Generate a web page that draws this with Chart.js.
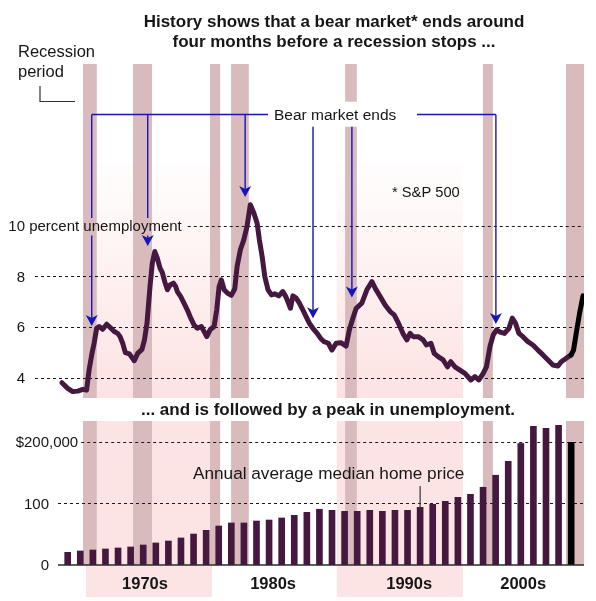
<!DOCTYPE html>
<html>
<head>
<meta charset="utf-8">
<script src="https://cdn.jsdelivr.net/npm/chart.js@4/dist/chart.umd.min.js"></script>
<style>
  html, body { margin: 0; padding: 0; background: #fff; }
  #wrap { position: relative; width: 596px; height: 601px; }
  canvas { display: block; }
</style>
</head>
<body>
<div id="wrap"><canvas id="c" width="596" height="601"></canvas></div>
<script>
// Monthly-ish unemployment rate, percent (year as decimal)
const U_YEARS = [
  1968.04, 1968.5, 1968.9, 1969.3, 1969.7, 1970.0, 1970.2, 1970.43, 1970.6, 1970.8,
  1971.0, 1971.28, 1971.6, 1971.86, 1972.2, 1972.47, 1972.66, 1972.87, 1973.08, 1973.4,
  1973.79, 1974.06, 1974.4, 1974.6, 1974.8, 1975.04, 1975.22, 1975.42, 1975.62, 1975.84,
  1976.02, 1976.21, 1976.42, 1976.63, 1976.9, 1977.08, 1977.21, 1977.48, 1977.74, 1978.0,
  1978.28, 1978.54, 1978.8, 1979.12, 1979.34, 1979.55, 1979.81, 1980.13, 1980.34, 1980.53,
  1980.71, 1980.93, 1981.19, 1981.5, 1981.77, 1981.96, 1982.22, 1982.49, 1982.75, 1983.01,
  1983.29, 1983.55, 1983.73, 1983.95, 1984.16, 1984.42, 1984.69, 1984.95, 1985.27, 1985.59,
  1985.85, 1986.2, 1986.39, 1986.65, 1986.91, 1987.18, 1987.44, 1987.7, 1987.98, 1988.32,
  1988.6, 1988.87, 1989.21, 1989.49, 1989.83, 1990.2, 1990.62, 1990.88, 1991.16, 1991.42,
  1991.87, 1992.27, 1992.67, 1993.0, 1993.33, 1993.72, 1994.12, 1994.44, 1994.78, 1995.13,
  1995.45, 1995.7, 1995.95, 1996.35, 1996.74, 1997.0, 1997.36, 1997.62, 1997.93, 1998.33,
  1998.67, 1998.94, 1999.26, 1999.66, 2000.06, 2000.53, 2000.85, 2001.17, 2001.51, 2001.77,
  2002.05, 2002.31, 2002.57, 2002.87, 2003.2, 2003.56, 2003.82, 2004.08, 2004.35, 2004.67,
  2005.06, 2005.46, 2005.86, 2006.26, 2006.66, 2007.05, 2007.45, 2007.71, 2008.11, 2008.5
];
const U_RATES = [
  3.80, 3.58, 3.45, 3.47, 3.54, 3.51, 4.30, 4.96, 5.36, 5.95,
  6.02, 5.91, 6.11, 5.99, 5.82, 5.75, 5.62, 5.36, 4.99, 4.94,
  4.67, 4.96, 5.12, 5.49, 6.15, 7.60, 8.52, 8.98, 8.72, 8.32,
  8.15, 7.79, 7.47, 7.66, 7.73, 7.60, 7.40, 7.20, 6.94, 6.68,
  6.35, 6.08, 5.95, 6.02, 5.82, 5.62, 5.89, 6.02, 6.68, 7.60,
  7.86, 7.47, 7.34, 7.25, 7.50, 8.39, 9.05, 9.44, 9.97, 10.83,
  10.50, 10.10, 9.44, 8.78, 7.99, 7.47, 7.27, 7.31, 7.23, 7.40,
  7.18, 6.74, 7.23, 7.14, 6.94, 6.68, 6.41, 6.15, 5.95, 5.75,
  5.55, 5.42, 5.36, 5.09, 5.36, 5.38, 5.25, 5.89, 6.35, 6.74,
  6.94, 7.47, 7.79, 7.47, 7.20, 6.87, 6.61, 6.48, 6.15, 5.75,
  5.49, 5.75, 5.62, 5.62, 5.49, 5.29, 5.36, 4.96, 4.83, 4.70,
  4.43, 4.63, 4.43, 4.30, 4.17, 3.91, 4.04, 3.91, 4.17, 4.43,
  5.23, 5.69, 5.89, 5.80, 5.75, 5.95, 6.35, 6.15, 5.75, 5.62,
  5.42, 5.29, 5.09, 4.90, 4.70, 4.50, 4.46, 4.63, 4.77, 4.90
];
// Latest readings, drawn in black
const U_RECENT_YEARS = [2008.5, 2008.69, 2008.9, 2009.17, 2009.44];
const U_RECENT_RATES = [4.90, 5.09, 5.75, 6.55, 7.23];

// Annual average median home price, thousands of dollars
const PRICE_YEARS = [
  1968, 1969, 1970, 1971, 1972, 1973, 1974, 1975, 1976, 1977,
  1978, 1979, 1980, 1981, 1982, 1983, 1984, 1985, 1986, 1987,
  1988, 1989, 1990, 1991, 1992, 1993, 1994, 1995, 1996, 1997,
  1998, 1999, 2000, 2001, 2002, 2003, 2004, 2005, 2006, 2007, 2008
];
const PRICES = [
  20.5, 22.7, 24.3, 26.0, 27.6, 29.2, 32.4, 35.7, 38.9, 43.8,
  50.2, 56.2, 63.2, 68.1, 68.1, 71.3, 72.9, 76.2, 80.5, 85.4,
  90.3, 88.6, 87.0, 87.0, 88.6, 87.0, 88.6, 88.6, 93.5, 98.4,
  103.2, 109.7, 114.6, 126.0, 145.5, 168.0, 197.0, 224.8, 221.5, 226.4, 198.8
];

// Recession periods
const RECESSION_START = [1969.72, 1973.69, 1979.81, 1981.48, 1990.54, 2001.49, 2008.09];
const RECESSION_END   = [1970.81, 1975.20, 1980.61, 1982.89, 1991.47, 2002.28, 2009.52];

// Bear market ends and where each arrow points (unemployment rate level)
const BEAR_END_YEARS = [1970.41, 1974.86, 1982.60, 1987.99, 1991.08, 2002.52];
const BEAR_ARROW_TIPS = [6.04, 9.20, 11.13, 6.35, 7.17, 6.12];

// Decades
const DECADE_LABELS = ['1970s', '1980s', '1990s', '2000s'];
const DECADE_LABEL_AT = [1974.64, 1984.82, 1995.63, 2004.69];
const SHADED_DECADE_START = [1969.95, 1989.88];
const SHADED_DECADE_END = [1979.97, 1999.90];

// Tick labels
const U_TICKS = [4, 6, 8, 10];
const U_TICK_LABELS = ['4', '6', '8', '10 percent unemployment'];
const P_TICKS = [0, 100, 200];
const P_TICK_LABELS = ['0', '100', '$200,000'];

const FONT = "'Liberation Sans', Arial, Helvetica, sans-serif";
const INK = '#161616';
const LINE_COLOR = '#45193f';
const RECESSION_COLOR = '#d9bbbd';
const DECADE_PINK = '#fde4e4';
const BLUE = '#1515b8';

const TOP_PANEL = { top: 64, bottom: 398, gradTop: 163 };
const BOTTOM_PANEL = { top: 421, shadeBottom: 597 };

function fillText(ctx, text, x, y, size, weight, align) {
  ctx.font = (weight || 'normal') + ' ' + size + 'px ' + FONT;
  ctx.textAlign = align || 'left';
  ctx.textBaseline = 'alphabetic';
  ctx.fillStyle = INK;
  ctx.fillText(text, x, y);
}

// Label whose leading number is right-aligned on the axis edge
function axisLabel(ctx, text, rightEdge, yPix, size) {
  ctx.font = size + 'px ' + FONT;
  const lead = text.split(/[ ,]/)[0];
  const x0 = rightEdge - ctx.measureText(lead).width;
  ctx.textAlign = 'left';
  ctx.textBaseline = 'alphabetic';
  ctx.fillStyle = INK;
  ctx.fillText(text, x0, yPix + size * 0.35);
  return { x0: x0, x1: x0 + ctx.measureText(text).width, y0: yPix - size * 0.45, y1: yPix + size * 0.45 };
}

function dashed(ctx, x0, x1, y) {
  ctx.save();
  ctx.strokeStyle = '#1a1a1a';
  ctx.lineWidth = 1;
  ctx.setLineDash([3, 3]);
  ctx.beginPath();
  ctx.moveTo(x0, Math.round(y) + 0.5);
  ctx.lineTo(x1, Math.round(y) + 0.5);
  ctx.stroke();
  ctx.restore();
}

const labelBoxes = [];

const backdrop = {
  id: 'backdrop',
  beforeDatasetsDraw(chart) {
    const { ctx, chartArea, scales: { x, yU, yP } } = chart;
    const baseY = yP.getPixelForValue(0);
    ctx.save();

    // shaded decades
    for (let i = 0; i < SHADED_DECADE_START.length; i++) {
      const x0 = x.getPixelForValue(SHADED_DECADE_START[i]);
      const x1 = x.getPixelForValue(SHADED_DECADE_END[i]);
      const g = ctx.createLinearGradient(0, TOP_PANEL.gradTop, 0, TOP_PANEL.bottom);
      g.addColorStop(0, 'rgba(253,228,228,0.06)');
      g.addColorStop(1, 'rgba(253,226,226,1)');
      ctx.fillStyle = g;
      ctx.fillRect(x0, TOP_PANEL.gradTop, x1 - x0, TOP_PANEL.bottom - TOP_PANEL.gradTop);
      ctx.fillStyle = DECADE_PINK;
      ctx.fillRect(x0, BOTTOM_PANEL.top, x1 - x0, BOTTOM_PANEL.shadeBottom - BOTTOM_PANEL.top);
    }

    // recessions
    ctx.fillStyle = RECESSION_COLOR;
    for (let i = 0; i < RECESSION_START.length; i++) {
      const x0 = x.getPixelForValue(RECESSION_START[i]);
      const x1 = Math.min(x.getPixelForValue(RECESSION_END[i]), chartArea.right);
      ctx.fillRect(x0, TOP_PANEL.top, x1 - x0, TOP_PANEL.bottom - TOP_PANEL.top);
      ctx.fillRect(x0, BOTTOM_PANEL.top, x1 - x0, baseY - BOTTOM_PANEL.top);
    }

    // unemployment grid + labels
    labelBoxes.length = 0;
    U_TICKS.forEach((v, i) => {
      const yy = yU.getPixelForValue(v);
      const box = axisLabel(ctx, U_TICK_LABELS[i], 25, yy, 15);
      labelBoxes.push(box);
      dashed(ctx, box.x1 + (i === U_TICKS.length - 1 ? 6 : 10), chartArea.right, yy);
    });

    // price grid + labels
    P_TICKS.forEach((v, i) => {
      const yy = yP.getPixelForValue(v);
      const box = axisLabel(ctx, P_TICK_LABELS[i], 49, yy, 15);
      if (v === 0) return;
      dashed(ctx, P_TICK_LABELS[i].includes(',') ? box.x1 + 3 : box.x1 + 9, chartArea.right, yy);
    });
    ctx.restore();
  },
  afterDatasetsDraw(chart) {
    const { ctx, chartArea, scales: { x, yU, yP } } = chart;
    const baseY = yP.getPixelForValue(0);
    ctx.save();

    // price axis baseline
    ctx.strokeStyle = '#2a2a2a';
    ctx.lineWidth = 1.5;
    ctx.beginPath();
    ctx.moveTo(chartArea.left, baseY);
    ctx.lineTo(chartArea.right, baseY);
    ctx.stroke();

    // bear market arrows
    const connectorY = 114.5;
    const box = { x0: 268, x1: 417, y0: 101.7, y1: 126.7 };
    const xs = BEAR_END_YEARS.map(v => x.getPixelForValue(v));
    ctx.strokeStyle = BLUE;
    ctx.fillStyle = BLUE;
    ctx.lineWidth = 1.4;
    ctx.beginPath();
    ctx.moveTo(xs[0], connectorY);
    ctx.lineTo(box.x0, connectorY);
    ctx.moveTo(box.x1, connectorY);
    ctx.lineTo(xs[xs.length - 1], connectorY);
    ctx.stroke();
    const tenLabel = labelBoxes[labelBoxes.length - 1];
    xs.forEach((ax, i) => {
      const tip = yU.getPixelForValue(BEAR_ARROW_TIPS[i]);
      const y0 = connectorY;
      const y1 = tip - 7;
      ctx.beginPath();
      if (tenLabel && ax > tenLabel.x0 && ax < tenLabel.x1 && tenLabel.y1 < y1) {
        ctx.moveTo(ax, y0); ctx.lineTo(ax, tenLabel.y0 - 1);
        ctx.moveTo(ax, tenLabel.y1 + 3); ctx.lineTo(ax, y1);
      } else {
        ctx.moveTo(ax, y0); ctx.lineTo(ax, y1);
      }
      ctx.stroke();
      ctx.beginPath();
      ctx.moveTo(ax, tip);
      ctx.lineTo(ax - 6, tip - 11);
      ctx.lineTo(ax, tip - 8);
      ctx.lineTo(ax + 6, tip - 11);
      ctx.closePath();
      ctx.fill();
    });

    // label box for the arrows
    ctx.fillStyle = '#ffffff';
    ctx.fillRect(box.x0, box.y0, box.x1 - box.x0, box.y1 - box.y0);
    fillText(ctx, 'Bear market ends', 274, 120, 15.5);

    // titles
    fillText(ctx, 'History shows that a bear market* ends around', 334, 27.3, 17, 'bold', 'center');
    fillText(ctx, 'four months before a recession stops ...', 334, 46.7, 17, 'bold', 'center');
    fillText(ctx, '... and is followed by a peak in unemployment.', 328, 415, 17, 'bold', 'center');

    // recession key
    fillText(ctx, 'Recession', 18, 57.3, 16.5);
    fillText(ctx, 'period', 18, 77.3, 16.5);
    ctx.strokeStyle = '#333';
    ctx.lineWidth = 1.2;
    ctx.beginPath();
    ctx.moveTo(40, 86);
    ctx.lineTo(40, 101.5);
    ctx.lineTo(75, 101.5);
    ctx.stroke();

    fillText(ctx, '* S&P 500', 392, 196.7, 14.7);

    // home price label + leader to the 1996 bar
    fillText(ctx, 'Annual average median home price', 193, 479, 17.2);
    const li = PRICE_YEARS.indexOf(1996);
    const lx = x.getPixelForValue(PRICE_YEARS[li] + 0.5);
    ctx.strokeStyle = '#333';
    ctx.lineWidth = 1.2;
    ctx.beginPath();
    ctx.moveTo(lx, 486);
    ctx.lineTo(lx, yP.getPixelForValue(PRICES[li]) + 3);
    ctx.stroke();

    // decade labels
    DECADE_LABELS.forEach((t, i) => {
      fillText(ctx, t, x.getPixelForValue(DECADE_LABEL_AT[i]), 589.3, 16.5, 'bold', 'center');
    });
    ctx.restore();
  }
};

const toPoints = (xsArr, ysArr, dx) => xsArr.map((v, i) => ({ x: v + (dx || 0), y: ysArr[i] }));

new Chart(document.getElementById('c'), {
  type: 'line',
  data: {
    datasets: [
      {
        type: 'line',
        data: toPoints(U_YEARS, U_RATES),
        yAxisID: 'yU',
        borderColor: LINE_COLOR,
        borderWidth: 5,
        pointRadius: 0,
        tension: 0,
        borderJoinStyle: 'round',
        borderCapStyle: 'round',
        order: 1
      },
      {
        type: 'line',
        data: toPoints(U_RECENT_YEARS, U_RECENT_RATES),
        yAxisID: 'yU',
        borderColor: '#000000',
        borderWidth: 5,
        pointRadius: 0,
        tension: 0,
        borderJoinStyle: 'round',
        borderCapStyle: 'round',
        order: 0
      },
      {
        type: 'bar',
        data: toPoints(PRICE_YEARS, PRICES, 0.5),
        yAxisID: 'yP',
        backgroundColor: PRICE_YEARS.map((y, i) => i === PRICE_YEARS.length - 1 ? '#000000' : LINE_COLOR),
        barThickness: 6,
        borderWidth: 0,
        order: 2
      }
    ]
  },
  options: {
    responsive: false,
    animation: false,
    devicePixelRatio: 1,
    layout: { padding: { left: 58, right: 12, top: 63, bottom: 36 } },
    plugins: { legend: { display: false }, tooltip: { enabled: false }, title: { display: false } },
    scales: {
      x: { type: 'linear', min: 1967.73, max: 2009.52, display: false, offset: false },
      yU: { type: 'linear', min: -3.394, max: 16.422, display: false },
      yP: { type: 'linear', min: 0, max: 813.6, display: false }
    }
  },
  plugins: [backdrop]
});
</script>
</body>
</html>
